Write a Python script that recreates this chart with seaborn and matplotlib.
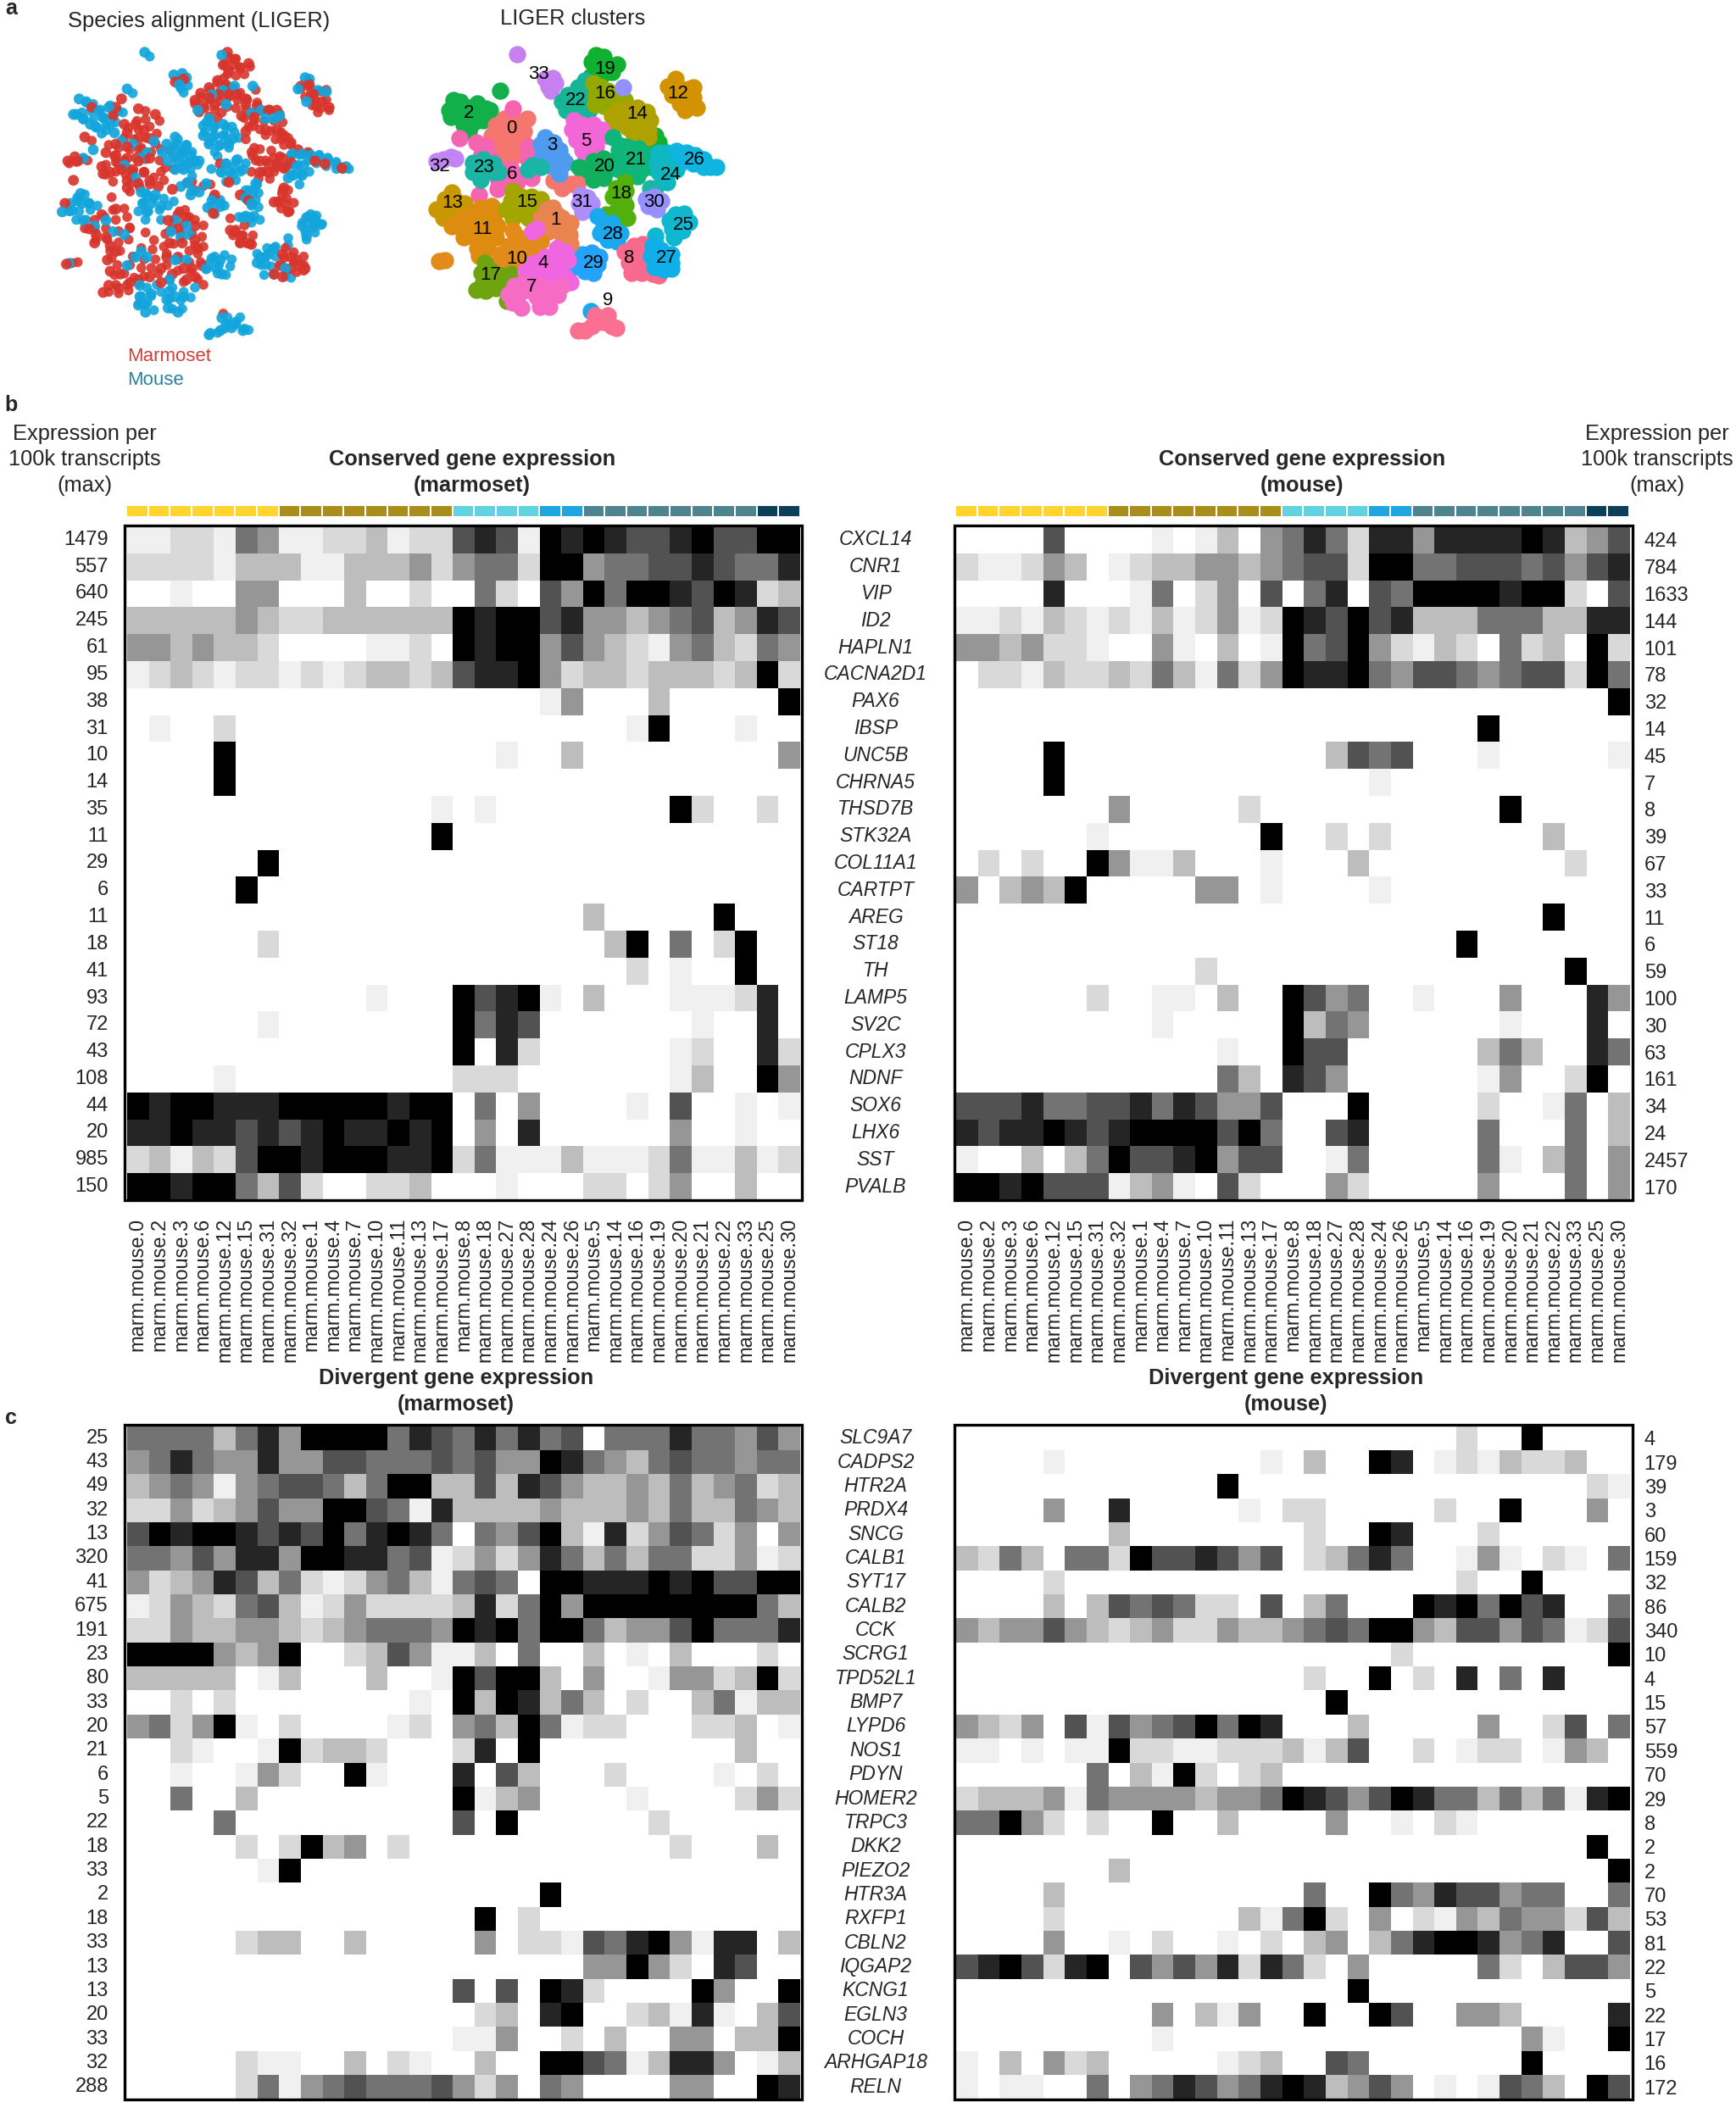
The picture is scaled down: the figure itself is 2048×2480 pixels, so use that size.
"""Marmoset / mouse interneuron comparison: LIGER embedding and gene expression heatmaps."""

import matplotlib
matplotlib.use("Agg")
import matplotlib.pyplot as plt
import pandas as pd
import seaborn as sns
from matplotlib.colors import ListedColormap

# --- embedding, in t-SNE style units ---
cluster_0 = [(315,300),(345,295),(285,325),(320,330),(360,320),(385,345),(270,360),(305,365),(345,360),(380,380),(290,400),(330,395),(365,410),(310,430),(345,435),(395,300),(490,520),(520,545),(550,530),(510,515),(575,525)]
cluster_1 = [(465,620),(500,640),(445,650),(480,665),(520,650),(550,670),(440,680),(470,700),(510,700),(545,710),(520,740),(550,745),(485,615)]
cluster_2 = [(135,235),(160,240),(120,270),(150,265),(185,260),(220,245),(250,265),(125,295),(160,295),(195,290),(230,285),(265,270),(170,320),(205,315),(190,345),(240,305),(300,202)]
cluster_3 = [(460,365),(490,385),(445,390),(475,410),(510,410),(450,430),(485,440),(520,440),(470,465),(505,470),(530,455),(510,495)]
cluster_4 = [(500,760),(530,770),(460,790),(500,800),(540,800),(420,810),(460,830),(505,835),(390,840),(430,860),(480,870),(530,860),(550,880),(415,700),(430,690)]
cluster_5 = [(560,305),(590,320),(630,320),(555,340),(590,350),(625,350),(660,340),(570,375),(610,385),(640,375),(675,360),(590,410),(600,425),(640,395)]
cluster_6 = [(215,385),(250,395),(235,425),(270,440),(400,400),(430,405),(395,440),(300,480),(340,480),(375,500),(295,520),(325,535),(290,550),(360,525),(410,510),(155,370),(225,570),(345,265)]
cluster_7 = [(350,890),(385,880),(330,920),(365,920),(400,905),(440,890),(480,905),(520,890),(345,950),(375,970),(430,930),(470,935),(440,965),(475,965),(505,925)]
cluster_8 = [(775,750),(805,745),(740,770),(770,780),(805,780),(755,810),(790,815),(825,810),(765,845),(800,845),(840,850),(860,855)]
cluster_9 = [(635,995),(680,995),(645,1020),(665,1020),(695,1035),(625,1035),(600,1050),(575,1050),(710,1040)]
cluster_10 = [(330,750),(370,755),(410,745),(445,735),(300,780),(340,790),(380,790),(420,770),(290,810),(330,820),(365,820),(85,803),(105,800),(345,695),(375,722)]
cluster_11 = [(230,615),(270,610),(165,650),(200,640),(240,650),(280,640),(130,680),(165,685),(205,680),(250,690),(290,680),(170,720),(210,720),(250,730),(285,720),(220,760),(255,760),(225,785)]
cluster_12 = [(920,160),(895,185),(930,190),(965,195),(985,190),(910,215),(945,225),(985,225),(935,245),(965,255),(995,262),(955,270)]
cluster_13 = [(130,560),(105,585),(145,590),(75,620),(110,620),(150,615),(175,600),(100,650),(135,650)]
cluster_14 = [(720,270),(750,265),(785,260),(820,275),(695,290),(730,300),(765,300),(800,300),(830,305),(710,320),(750,330),(790,335),(825,340),(770,350),(805,365),(825,365)]
cluster_15 = [(345,555),(340,590),(375,575),(410,575),(445,585),(320,620),(355,620),(395,615),(425,600),(345,650),(400,650)]
cluster_16 = [(630,175),(655,185),(680,200),(640,215),(670,225),(705,225),(740,235),(635,250),(665,255),(700,260)]
cluster_17 = [(245,810),(235,845),(270,840),(305,855),(340,850),(240,880),(280,880),(320,875),(215,905),(250,910),(285,900),(325,945)]
cluster_18 = [(740,525),(710,545),(745,555),(700,575),(735,580),(720,600),(745,605),(700,635),(730,635),(675,640),(750,650),(720,660)]
cluster_19 = [(640,75),(665,80),(625,100),(650,105),(680,110),(715,108),(635,135),(665,140),(695,135),(620,150),(850,360),(860,385),(835,385)]
cluster_20 = [(630,450),(665,440),(700,450),(610,480),(645,480),(680,480),(630,515),(665,510),(578,470)]
cluster_21 = [(720,410),(750,400),(790,405),(820,425),(735,440),(770,440),(810,450),(720,480),(760,480),(800,480),(835,470),(745,505),(785,505),(700,365),(730,395)]
cluster_22 = [(600,165),(575,190),(610,195),(540,215),(575,225),(610,230),(520,240),(555,255),(590,260),(615,270),(535,270),(570,285),(600,290)]
cluster_23 = [(205,455),(240,445),(275,460),(205,490),(240,480),(275,490),(230,515),(295,490),(415,465),(445,470),(400,480),(830,545),(850,545)]
cluster_24 = [(860,420),(890,420),(855,455),(885,455),(920,440),(860,490),(895,490),(925,480),(890,525)]
cluster_25 = [(920,640),(950,635),(900,660),(935,665),(970,665),(910,690),(945,695),(915,720),(850,715),(850,740)]
cluster_26 = [(925,415),(960,420),(990,430),(1020,445),(950,450),(985,460),(1045,470),(1065,470),(1020,470)]
cluster_27 = [(840,750),(870,765),(905,780),(835,785),(870,800),(905,810),(845,825),(880,835),(905,830)]
cluster_28 = [(665,685),(695,670),(655,705),(690,705),(725,705),(680,730),(715,735),(645,645),(620,982)]
cluster_29 = [(590,780),(625,775),(650,790),(570,805),(605,810),(645,815),(560,825),(600,840),(630,845)]
cluster_30 = [(815,585),(845,575),(870,590),(825,610),(855,620),(735,190)]
cluster_31 = [(585,570),(610,580),(580,600),(610,605),(590,630),(625,600)]
cluster_32 = [(75,450),(100,445),(125,435),(140,440),(289,677)]
cluster_33 = [(360,72),(460,160),(485,155),(470,185),(495,175),(480,200)]

cluster_list = [cluster_2, cluster_0, cluster_6, cluster_3, cluster_23, cluster_32, cluster_33, cluster_19,
                cluster_22, cluster_16, cluster_14, cluster_12, cluster_5, cluster_20, cluster_21, cluster_24,
                cluster_26, cluster_18, cluster_30, cluster_31, cluster_25, cluster_28, cluster_8, cluster_27,
                cluster_29, cluster_9, cluster_13, cluster_11, cluster_15, cluster_1, cluster_10, cluster_17,
                cluster_4, cluster_7]
cluster_ids = [2, 0, 6, 3, 23, 32, 33, 19, 22, 16, 14, 12, 5, 20, 21, 24, 26, 18, 30, 31, 25, 28, 8, 27, 29, 9,
               13, 11, 15, 1, 10, 17, 4, 7]
cluster_colors = {0: "#F5766F", 1: "#E9834F", 2: "#12B04A", 3: "#4F9BF0", 4: "#F066E0", 5: "#F266D6", 6: "#F564B0",
                  7: "#F66CC4", 8: "#F8698E", 9: "#FB7090", 10: "#E38B1A", 11: "#DE8C0F", 12: "#D39200", 13: "#C99800",
                  14: "#AFA100", 15: "#A3A500", 16: "#94A800", 17: "#6EA410", 18: "#53AF0A", 19: "#10B030",
                  20: "#10B060", 21: "#10B57A", 22: "#17B597", 23: "#1AB5A5", 24: "#0FB8C0", 25: "#0FB8CF",
                  26: "#0FB5E0", 27: "#0FB0EA", 28: "#1AA8EE", 29: "#25A2FA", 30: "#9590FF", 31: "#AE8CFA",
                  32: "#C084F5", 33: "#C780F0"}
# species that dominates each cluster in the alignment panel
mostly_marmoset = [0, 1, 4, 6, 10, 11, 12, 14, 16, 17, 19, 21, 22, 23, 27, 28, 30, 32]

label_ids = list(range(34))
label_x = [340,497,190,485,452,605,342,410,758,680,360,238,928,130,785,395,672,265,728,672,670,780,567,245,905,950,988,890,700,632,845,590,85,435]
label_y = [335,658,280,395,810,380,497,897,795,945,797,690,212,598,282,597,212,853,565,125,468,445,235,472,500,677,447,795,708,810,597,597,468,143]

mouse_cells = [(362,65),(465,145),(495,140),(485,180),(510,155),(130,230),(120,285),(155,240),(215,295),(235,260),(200,275),(170,320),(240,320),(190,330),(110,285),(145,300),(225,340),(300,195),
               (280,380),(320,390),(290,465),(350,440),(330,510),(395,380),(255,350),(370,420),
               (470,365),(440,390),(475,390),(510,395),(425,420),(460,420),(495,420),(525,430),(445,450),(480,450),(515,460),(470,480),(500,480),(540,450),(555,450),
               (635,75),(600,215),(640,200),(680,185),(550,270),(745,185),(650,250),
               (590,300),(570,325),(605,330),(640,320),(670,330),(570,360),(605,365),(640,360),(675,370),(590,390),(625,395),(660,390),
               (740,280),(790,300),(820,300),(840,290),(775,270),(930,155),(905,195),(945,160),(975,200),(1005,205),(935,240),
               (885,425),(920,425),(950,430),(980,435),(1010,445),(1040,460),(1075,470),
               (650,460),(680,470),(635,490),(670,500),(710,480),(690,445),(900,470),(925,465),(890,500),(920,500),(870,510),
               (720,555),(745,560),(720,580),(755,530),(740,600),(935,650),(965,655),(920,680),(955,685),(985,675),(935,715),(950,640),
               (710,650),(735,650),(770,790),(800,780),(760,810),(790,815),(820,760),(860,830),
               (600,795),(630,800),(580,830),(615,830),(635,850),(600,590),(630,600),(585,615),
               (515,525),(530,555),(555,560),(580,530),(490,540),(525,570),
               (370,570),(400,570),(355,600),(385,600),(420,610),(370,630),(350,560),
               (125,580),(100,600),(140,600),(70,630),(105,625),(165,600),(135,565),
               (145,660),(225,660),(185,680),(250,700),(290,710),(470,660),(510,680),(490,720),(520,710),(455,700),
               (330,790),(350,770),(300,820),(370,790),(470,800),(510,800),(450,870),(345,890),
               (345,930),(370,950),(340,960),(365,985),(385,920),(450,910),(440,940),(470,930),(445,970),(480,985),(500,930),
               (635,1005),(650,1030),(685,1020),(630,1050),(710,1050),(590,1065),(670,1040),(145,440),(95,812),(180,410)]
marmoset_cells = [(470,170),(500,160),(175,260),(250,290),(280,230),(290,320),(260,260),(340,265),(400,285),
                  (330,320),(360,340),(300,350),(340,370),(380,370),(260,390),(300,400),(345,410),(225,420),(260,430),(300,440),(340,450),(380,440),(210,470),(240,490),(280,480),(320,480),(360,490),(300,520),(340,530),(380,520),(215,495),(270,460),
                  (655,65),(680,90),(640,110),(700,120),(660,130),(620,165),(650,180),(590,190),(560,210),(590,225),(625,215),(660,215),(540,235),(570,255),(610,250),(690,215),(720,230),(730,105),
                  (720,250),(760,255),(800,270),(830,270),(705,290),(750,295),(720,345),(790,340),(830,340),(855,360),(880,385),(745,325),
                  (915,185),(945,180),(960,215),(990,240),(1015,260),(970,255),(950,225),
                  (905,410),(940,420),(965,450),(1000,460),(1060,475),(630,460),(660,525),
                  (770,450),(800,460),(830,470),(770,490),(800,490),(745,430),(850,440),(820,440),(880,455),(860,470),
                  (700,570),(730,590),(850,565),(835,595),(860,600),(870,630),(820,595),(855,545),
                  (680,700),(705,715),(725,740),(665,695),(700,740),(740,745),
                  (850,780),(880,790),(910,820),(930,830),(840,820),(880,830),(900,800),(850,860),(820,850),
                  (565,820),(610,570),(605,635),(460,550),(300,545),(410,540),(80,600),
                  (165,690),(190,710),(225,720),(260,620),(210,640),(185,740),(240,750),
                  (480,640),(510,650),(445,660),(540,680),(480,690),(450,740),(495,740),(540,730),(550,760),
                  (230,800),(260,770),(240,840),(275,850),(310,880),(235,890),(270,900),(215,915),(340,870),(380,860),(420,830),(460,850),(420,880),(500,830),(530,830),(510,870),(540,860),(440,790),(480,790),
                  (90,450),(115,435),(125,450),(85,815),(110,518),(150,365)]

# --- heatmap columns and genes ---
columns = ["marm.mouse." + c for c in "0 2 3 6 12 15 31 32 1 4 7 10 11 13 17 8 18 27 28 24 26 5 14 16 19 20 21 22 33 25 30".split()]
strip_groups = [0,0,0,0,0,0,0,1,1,1,1,1,1,1,1,2,2,2,2,3,3,4,4,4,4,4,4,4,4,5,5]
strip_colors = ["#FFD42F", "#A98E1B", "#62D2E0", "#1FA5E0", "#4F8390", "#0E3F5A"]
grey_levels = ["#FFFFFF", "#F0F0F0", "#D9D9D9", "#BDBDBD", "#969696", "#737373", "#525252", "#252525", "#000000"]

conserved_genes = ["CXCL14","CNR1","VIP","ID2","HAPLN1","CACNA2D1","PAX6","IBSP","UNC5B","CHRNA5","THSD7B","STK32A","COL11A1","CARTPT","AREG","ST18","TH","LAMP5","SV2C","CPLX3","NDNF","SOX6","LHX6","SST","PVALB"]
conserved_marm_max = [1479,557,640,245,61,95,38,31,10,14,35,11,29,6,11,18,41,93,72,43,108,44,20,985,150]
conserved_mouse_max = [424,784,1633,144,101,78,32,14,45,7,8,39,67,33,11,6,59,100,30,63,161,34,24,2457,170]
divergent_genes = ["SLC9A7","CADPS2","HTR2A","PRDX4","SNCG","CALB1","SYT17","CALB2","CCK","SCRG1","TPD52L1","BMP7","LYPD6","NOS1","PDYN","HOMER2","TRPC3","DKK2","PIEZO2","HTR3A","RXFP1","CBLN2","IQGAP2","KCNG1","EGLN3","COCH","ARHGAP18","RELN"]
divergent_marm_max = [25,43,49,32,13,320,41,675,191,23,80,33,20,21,6,5,22,18,33,2,18,33,13,13,20,33,32,288]
divergent_mouse_max = [4,179,39,3,60,159,32,86,340,10,4,15,57,559,70,29,8,2,2,70,53,81,22,5,22,17,16,172]

# scaled expression per gene and cluster, one digit per cell (0 = lowest .. 8 = highest)
conserved_marm = [
    "1122154112 2312267618 7876678668 8",
    "2222133311 3334245528 8455667655 7",
    "0010044000 3002005206 4858876872 3",
    "3333343223 3333387886 7443456347 6",
    "4434332000 0112087884 6432145325 4",
    "1232122121 2332367784 2332333238 2",
    "0000000000 0000000001 4000300000 8",
    "0100200000 0000000000 0001800010 0",
    "0000800000 0000000100 3000000000 4",
    "0000800000 0000000000 0000000000 0",
    "0000000000 0000101000 0000082002 0",
    "0000000000 0000800000 0000000000 0",
    "0000008000 0000000000 0000000000 0",
    "0000080000 0000000000 0000000000 0",
    "0000000000 0000000000 0300000800 0",
    "0000002000 0000000000 0038050280 0",
    "0000000000 0000000000 0002010080 0",
    "0000000000 0100086781 0300011127 0",
    "0000001000 0000085760 0000001007 0",
    "0000000000 0000080720 0000012007 2",
    "0000100000 0000022200 0000013008 4",
    "8788777888 8878805040 0001060010 1",
    "7787767678 7787804070 0000040010 0",
    "2313268878 8877825111 3111251131 2",
    "8878853620 0223000100 0220240030 0",
]
conserved_mouse = [
    "0000600001 0130457527 7477778734 6",
    "2112430123 3443456628 8556665646 7",
    "0000700015 0240605706 5888878820 6",
    "1121321213 1241287686 7333555337 7",
    "4434221004 1030185684 2132052308 2",
    "0221322325 3152487785 4665456628 5",
    "0000000000 0000000000 0000000000 8",
    "0000000000 0000000000 0000800000 0",
    "0000800000 0000000365 6000100000 1",
    "0000800000 0000000001 0000000000 0",
    "0000000400 0002000000 0000080000 0",
    "0000001000 0000800202 0000000300 0",
    "0202008411 3000100030 0000000020 0",
    "4034380000 0440100001 0000000000 0",
    "0000000000 0000000000 0000000800 0",
    "0000000000 0000000000 0008000000 0",
    "0000000000 0200000000 0000000080 0",
    "0000002001 1030086450 0100040007 4",
    "0000000001 0000083540 0000010007 0",
    "0000000000 0010086600 0000353007 5",
    "0000000000 0053076400 0000140028 0",
    "6667556675 7644600080 0000200150 3",
    "7677876788 8868500670 0000500050 3",
    "1003035866 7846600150 0000510350 4",
    "8878666134 1062000420 0000400050 4",
]
divergent_marm = [
    "5555357488 8857657575 6055575546 4",
    "4575447446 6555656448 7543565545 5",
    "3454145665 3588336376 4334353452 3",
    "2242346448 8651733334 3334353354 3",
    "6878876768 5787505468 3172465240 4",
    "5546477488 7756124247 5353552241 2",
    "4234763521 2453156508 8777878668 8",
    "1243256312 4222237258 4888888885 3",
    "2243344323 4555487858 8534468555 7",
    "8888434800 2364113050 0301030002 0",
    "3333301300 0300186883 0400144238 2",
    "0020200000 0001083873 5302003513 3",
    "4524810200 0012045385 1220002230 1",
    "0021001823 3200027080 0000000030 0",
    "0010014200 8100070630 0020000102 0",
    "0050030000 0000081340 0001000024 2",
    "0000500000 0000060800 0000200000 0",
    "0000020283 4020000000 0000020003 0",
    "0000001800 0000000000 0000000000 0",
    "0000000000 0000000008 0000000000 0",
    "0000000000 0000008020 0000000000 0",
    "0000023300 3000004022 1657841770 3",
    "0000000000 0000000000 0448420760 0",
    "0000000000 0000060608 7200008400 8",
    "0000000000 0000002307 8002317103 6",
    "0000000000 0000011400 2030044033 8",
    "0000021100 3021003008 8651377401 3",
    "0000025145 6555642405 4000044008 7",
]
divergent_mouse = [
    "0000000000 0000000000 0002008000 0",
    "0000100000 0000103008 7012132230 0",
    "0000000000 0080000000 0000000002 1",
    "0000400700 0001022000 0020080004 0",
    "0000000300 0000002008 7000200000 0",
    "3253055286 6764602357 5001410210 5",
    "0000200000 0000000000 0002008000 0",
    "0000303656 5220603500 0878586700 5",
    "4344643234 2243345658 8436646512 6",
    "0000000000 0000000000 2000000000 8",
    "0000000000 0000002008 0207050700 0",
    "0000000000 0000000800 0000000000 0",
    "4324061645 6858700030 0000400260 5",
    "1101011822 1122231360 0201220143 0",
    "0000005031 8202300000 0000000000 0",
    "2333415444 4344587646 8755353517 8",
    "5584202008 0030000400 1021000000 0",
    "0000000000 0000000000 0000000008 0",
    "0000000300 0000000000 0000000000 8",
    "0000300000 0000005008 5476645500 5",
    "0000200000 0003158204 0214354426 3",
    "0000400102 0010203403 5788745700 6",
    "6786278064 6472752040 0000520366 4",
    "0000000000 0000000080 0000000000 0",
    "0000000004 0314008008 6004430000 7",
    "0000000001 0000000000 0000004100 8",
    "1030423000 0012300650 0000008000 0",
    "1011005045 7645787346 4010165308 6",
]

W, H = 2048, 2480
FONT = "Liberation Sans"
sns.set_style("white")
plt.rcParams["font.family"] = [FONT, "DejaVu Sans"]


def add_axes_px(fig, left, top, right, bottom):
    return fig.add_axes([left / W, 1 - bottom / H, (right - left) / W, (bottom - top) / H])


def fig_text(fig, x, y, s, **kw):
    kw.setdefault("ha", "center")
    kw.setdefault("va", "center")
    kw.setdefault("fontsize", 18.3)
    fig.text(x / W, 1 - y / H, s, **kw)


def draw_frame(fig, left, top, right, bottom):
    fig.add_artist(plt.Rectangle((left / W, 1 - bottom / H), (right - left) / W, (bottom - top) / H,
                                 transform=fig.transFigure, fill=False, edgecolor="black", linewidth=2.4))


def draw_heatmap(ax, rows, genes, max_values, side, show_x):
    values = [[int(d) for d in r.replace(" ", "")] for r in rows]
    frame = pd.DataFrame(values, index=genes, columns=columns)
    sns.heatmap(frame, ax=ax, cmap=ListedColormap(grey_levels), vmin=-0.5, vmax=8.5, cbar=False,
                xticklabels=show_x, yticklabels=max_values, linewidths=0)
    if side == "right":
        ax.yaxis.tick_right()
    ax.tick_params(axis="y", length=0, pad=12 if side == "right" else 16, labelsize=17, labelrotation=0)
    ax.tick_params(axis="x", length=0, pad=15, labelsize=17, labelrotation=90)
    ax.set_xlabel("")
    ax.set_ylabel("")


def draw_strip(ax):
    frame = pd.DataFrame([strip_groups])
    sns.heatmap(frame, ax=ax, cmap=ListedColormap(strip_colors), vmin=-0.5, vmax=5.5, cbar=False,
                xticklabels=False, yticklabels=False, linewidths=1.2, linecolor="white")


def main():
    fig = plt.figure(figsize=(W / 100, H / 100), dpi=100, facecolor="white")

    embedding = pd.DataFrame(
        [(x, y, cid) for cid, pts in zip(cluster_ids, cluster_list) for x, y in pts],
        columns=["tsne1", "tsne2", "cluster"],
    )
    palette = {"Marmoset": "#D8352C", "Mouse": "#12A5DC"}

    # --- a: species alignment ---
    species = pd.DataFrame(
        [(x, y, "Marmoset") for x, y in marmoset_cells] + [(x, y, "Mouse") for x, y in mouse_cells],
        columns=["tsne1", "tsne2", "species"],
    ).sort_values("tsne2")
    under = embedding.assign(species=["Marmoset" if c in mostly_marmoset else "Mouse" for c in embedding["cluster"]])
    ax = add_axes_px(fig, 50, 40, 430, 420)
    # the left panel sits a little right and below the cluster panel in its own crop
    sns.scatterplot(x=under["tsne1"] + 20, y=under["tsne2"] + 8, hue=under["species"], ax=ax, s=70, linewidth=0,
                    legend=False, palette=palette, alpha=0.9)
    sns.scatterplot(data=species, x="tsne1", y="tsne2", hue="species", ax=ax, s=85, linewidth=0, legend=False,
                    palette=palette, alpha=0.92)
    ax.set_xlim(0, 1140)
    ax.set_ylim(1140, 0)
    ax.axis("off")

    # --- a: clusters ---
    ax = add_axes_px(fig, 490, 40, 870, 420)
    for cid in cluster_ids:
        part = embedding[embedding["cluster"] == cid]
        sns.scatterplot(data=part, x="tsne1", y="tsne2", ax=ax, s=215, linewidth=0, color=cluster_colors[cid])
    for cid, x, y in zip(label_ids, label_x, label_y):
        ax.text(x, y, str(cid), ha="center", va="center", fontsize=16, color="black")
    ax.set_xlim(0, 1140)
    ax.set_ylim(1140, 0)
    ax.axis("off")

    fig_text(fig, 235, 25, "Species alignment (LIGER)", fontsize=18.4)
    fig_text(fig, 676, 22, "LIGER clusters", fontsize=18.4)
    fig_text(fig, 150, 420, "Marmoset", ha="left", color="#D1403B", fontsize=16)
    fig_text(fig, 150, 448, "Mouse", ha="left", color="#2B7FA0", fontsize=16)

    # --- b: conserved genes ---
    ax = add_axes_px(fig, 150, 621, 944, 1416)
    draw_heatmap(ax, conserved_marm, conserved_genes, conserved_marm_max, "left", True)
    draw_frame(fig, 147, 620, 945.5, 1416)
    ax = add_axes_px(fig, 1128, 621, 1923, 1416)
    draw_heatmap(ax, conserved_mouse, conserved_genes, conserved_mouse_max, "right", True)
    draw_frame(fig, 1126, 620, 1926, 1416)
    pitch = 795 / 25
    for i, gene in enumerate(conserved_genes):
        fig_text(fig, 1033, 621 + pitch * (i + 0.5), gene, style="italic", fontsize=16.5)

    draw_strip(add_axes_px(fig, 149, 596, 944, 610))
    draw_strip(add_axes_px(fig, 1127, 596, 1922, 610))

    # --- c: divergent genes ---
    ax = add_axes_px(fig, 150, 1682.5, 944, 2476.5)
    draw_heatmap(ax, divergent_marm, divergent_genes, divergent_marm_max, "left", False)
    draw_frame(fig, 147, 1681, 945.5, 2476.5)
    ax = add_axes_px(fig, 1128, 1682.5, 1923, 2476.5)
    draw_heatmap(ax, divergent_mouse, divergent_genes, divergent_mouse_max, "right", False)
    draw_frame(fig, 1126, 1681, 1926, 2476.5)
    pitch = 794 / 28
    for i, gene in enumerate(divergent_genes):
        fig_text(fig, 1033, 1682.5 + pitch * (i + 0.5), gene, style="italic", fontsize=16.5)

    # --- titles ---
    for x, y, first, second in [(557, 542, "Conserved gene expression", "(marmoset)"),
                                (1536, 542, "Conserved gene expression", "(mouse)"),
                                (538, 1626, "Divergent gene expression", "(marmoset)"),
                                (1517, 1626, "Divergent gene expression", "(mouse)")]:
        fig_text(fig, x, y, first, fontweight="bold")
        fig_text(fig, x, y + 31, second, fontweight="bold")
    for x in (100, 1955):
        fig_text(fig, x, 512, "Expression per")
        fig_text(fig, x, 542, "100k transcripts")
        fig_text(fig, x, 573, "(max)")

    for y, letter in [(10, "a"), (478, "b"), (1673, "c")]:
        fig_text(fig, 13, y, letter, fontweight="bold", fontsize=18)

    fig.savefig("out.png", dpi=100, facecolor="white")


if __name__ == "__main__":
    main()
